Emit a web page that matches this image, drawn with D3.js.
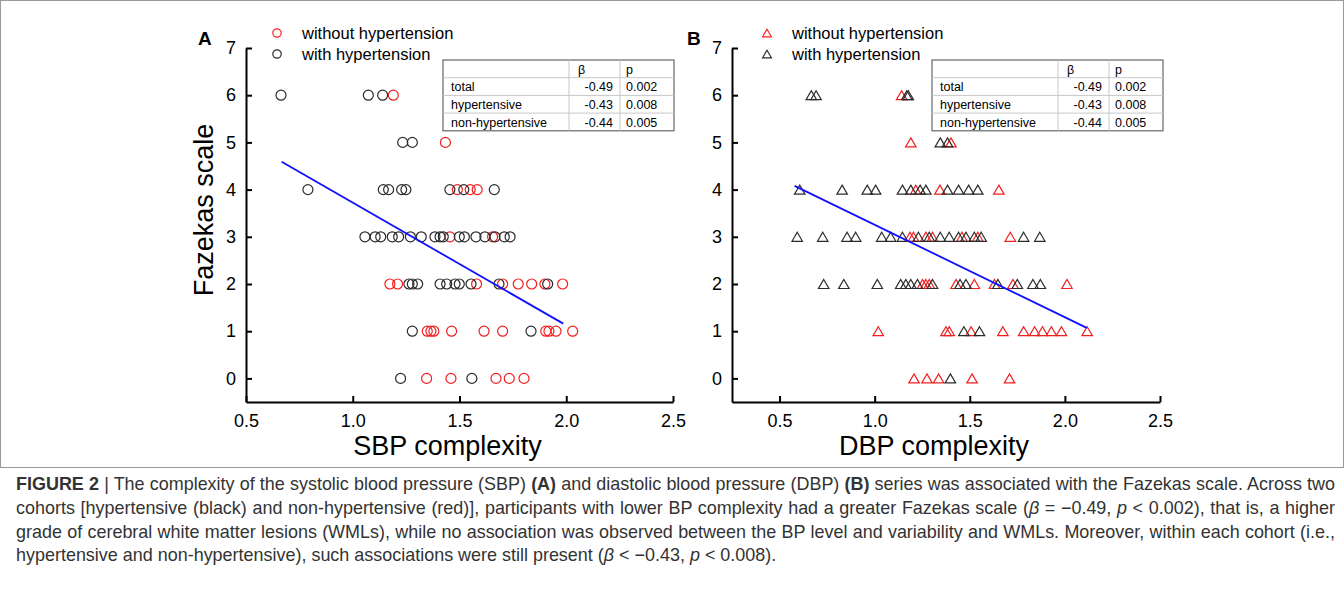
<!DOCTYPE html>
<html>
<head>
<meta charset="utf-8">
<title>Figure 2</title>
<style>
body { margin: 0; background: #fff; }
text { font-family: "Liberation Sans", Arial, sans-serif; fill: #000; }
.axis path, .axis line { stroke: #000; stroke-width: 2px; }
.axis text { font-size: 18px; font-family: "Liberation Sans", Arial, sans-serif; }
.caption { fill: #333; }
</style>
</head>
<body>
<script src="https://cdn.jsdelivr.net/npm/d3@7"></script>
<script>

// panel A: SBP complexity vs Fazekas scale
var sbpWith = [
  [0.664,6],[1.073,6],[1.14,6],
  [1.234,5],[1.279,5],
  [0.79,4],[1.143,4],[1.168,4],[1.229,4],[1.249,4],[1.455,4],[1.52,4],[1.663,4],
  [1.057,3],[1.105,3],[1.131,3],[1.185,3],[1.215,3],[1.27,3],[1.321,3],[1.385,3],[1.409,3],[1.424,3],
  [1.499,3],[1.523,3],[1.577,3],[1.619,3],[1.666,3],[1.71,3],[1.737,3],
  [1.263,2],[1.279,2],[1.304,2],[1.409,2],[1.44,2],[1.479,2],[1.499,2],[1.554,2],[1.685,2],[1.913,2],
  [1.279,1],[1.835,1],
  [1.224,0],[1.558,0]
];
var sbpWithout = [
  [1.19,6],
  [1.434,5],
  [1.49,4],[1.55,4],[1.583,4],
  [1.455,3],[1.655,3],
  [1.174,2],[1.21,2],[1.58,2],[1.702,2],[1.775,2],[1.838,2],[1.9,2],[1.983,2],
  [1.349,1],[1.366,1],[1.38,1],[1.463,1],[1.615,1],[1.702,1],[1.904,1],[1.919,1],[1.952,1],[2.03,1],
  [1.346,0],[1.46,0],[1.671,0],[1.733,0],[1.802,0]
];
var sbpFit = [[0.667,4.59],[1.986,1.16]];

// panel B: DBP complexity vs Fazekas scale
var dbpWith = [
  [0.667,6],[0.692,6],[1.169,6],[1.177,6],
  [1.345,5],[1.383,5],
  [0.606,4],[0.829,4],[0.961,4],[1.005,4],[1.146,4],[1.19,4],[1.239,4],[1.269,4],[1.383,4],[1.441,4],[1.494,4],[1.542,4],
  [0.593,3],[0.727,3],[0.855,3],[0.9,3],[1.037,3],[1.084,3],[1.146,3],[1.23,3],[1.287,3],[1.345,3],[1.392,3],
  [1.441,3],[1.48,3],[1.524,3],[1.56,3],[1.783,3],[1.868,3],
  [0.732,2],[0.838,2],[1.014,2],[1.137,2],[1.164,2],[1.19,2],[1.225,2],[1.304,2],[1.449,2],[1.48,2],
  [1.648,2],[1.75,2],[1.832,2],[1.871,2],
  [1.469,1],[1.551,1],
  [1.398,0]
];
var dbpWithout = [
  [1.142,6],
  [1.19,5],[1.401,5],
  [1.216,4],[1.343,4],[1.653,4],
  [1.186,3],[1.204,3],[1.269,3],[1.304,3],[1.459,3],[1.542,3],[1.713,3],
  [1.252,2],[1.269,2],[1.287,2],[1.428,2],[1.524,2],[1.63,2],[1.727,2],[2.011,2],
  [1.019,1],[1.375,1],[1.392,1],[1.507,1],[1.674,1],[1.783,1],[1.841,1],[1.882,1],[1.929,1],[1.982,1],[2.117,1],
  [1.207,0],[1.275,0],[1.336,0],[1.512,0],[1.709,0]
];
var dbpFit = [[0.579,4.08],[2.115,1.07]];

var xTicks = [0.5, 1.0, 1.5, 2.0, 2.5];
var yTicks = [0, 1, 2, 3, 4, 5, 6, 7];

var statRows = ["total", "hypertensive", "non-hypertensive"];
var statBeta = ["-0.49", "-0.43", "-0.44"];
var statP = ["0.002", "0.008", "0.005"];

var legendLabels = ["without hypertension", "with hypertension"];
var redCol = "#f21f1f", blackCol = "#2b2b2b";

var width = 1344, height = 600;

var svg = d3.select("body").append("svg")
    .attr("width", width)
    .attr("height", height);

// frame around the figure
svg.append("rect")
    .attr("x", 0.5).attr("y", 0.5)
    .attr("width", width - 1).attr("height", 467)
    .attr("fill", "none").attr("stroke", "#9a9a9a");

var y = d3.scaleLinear().domain([-0.5, 7]).range([402, 48]);

var panels = [
  {label: "A", xl: 246, xr: 673, xmin: 0.5, shape: "circle", xtitle: "SBP complexity",
   withP: sbpWith, withoutP: sbpWithout, fit: sbpFit, labelX: 198, legX: 277, tabX: 443, ytitle: true},
  {label: "B", xl: 732, xr: 1160, xmin: 0.25, shape: "triangle", xtitle: "DBP complexity",
   withP: dbpWith, withoutP: dbpWithout, fit: dbpFit, labelX: 687, legX: 767, tabX: 932, ytitle: false}
];

function marker(g, shape, cx, cy, col, r) {
  if (shape == "circle") {
    g.append("circle")
        .attr("cx", cx).attr("cy", cy).attr("r", r)
        .attr("fill", "none").attr("stroke", col).attr("stroke-width", 1.2);
  } else {
    var h = r * 1.8, w = r * 2.1;
    g.append("path")
        .attr("d", "M" + cx + "," + (cy - h / 2) + "L" + (cx + w / 2) + "," + (cy + h / 2) +
                   "L" + (cx - w / 2) + "," + (cy + h / 2) + "Z")
        .attr("fill", "none").attr("stroke", col).attr("stroke-width", 1.2);
  }
}

panels.forEach(function(p) {
  var x = d3.scaleLinear().domain([p.xmin, 2.5]).range([p.xl, p.xr]);
  var g = svg.append("g");

  // axes, ticks pointing inward
  g.append("g")
      .attr("class", "axis")
      .attr("transform", "translate(0," + y(-0.5) + ")")
      .call(d3.axisBottom(x).tickValues(xTicks).tickFormat(d3.format(".1f"))
            .tickSizeInner(-6).tickSizeOuter(0).tickPadding(12));

  g.append("g")
      .attr("class", "axis")
      .attr("transform", "translate(" + p.xl + ",0)")
      .call(d3.axisLeft(y).tickValues(yTicks).tickFormat(d3.format("d"))
            .tickSizeInner(-6).tickSizeOuter(0).tickPadding(10));

  g.selectAll(".axis text").style("font-size", "18px");

  g.append("text")
      .attr("x", (p.xl + p.xr) / 2 - 12).attr("y", 455)
      .attr("text-anchor", "middle")
      .style("font-size", "27px")
      .text(p.xtitle);

  if (p.ytitle) {
    g.append("text")
        .attr("transform", "translate(213," + 210 + ") rotate(-90)")
        .attr("text-anchor", "middle")
        .style("font-size", "27px")
        .text("Fazekas scale");
  }

  g.append("text")
      .attr("x", p.labelX).attr("y", 45)
      .style("font-size", "19px").style("font-weight", "bold")
      .text(p.label);

  // data points: non-hypertensive first, hypertensive on top
  var pts = g.append("g");
  p.withoutP.forEach(function(d) { marker(pts, p.shape, x(d[0]), y(d[1]), redCol, 5); });
  p.withP.forEach(function(d) { marker(pts, p.shape, x(d[0]), y(d[1]), blackCol, 5); });

  // regression line
  g.append("path")
      .attr("d", d3.line().x(function(d) { return x(d[0]); }).y(function(d) { return y(d[1]); })(p.fit))
      .attr("fill", "none").attr("stroke", "#1010ff").attr("stroke-width", 1.8);

  // legend
  legendLabels.forEach(function(t, i) {
    var ly = 33 + i * 21;
    marker(g, p.shape, p.legX, ly, i == 0 ? "#ff2020" : blackCol, 4.2);
    g.append("text")
        .attr("x", p.legX + 25).attr("y", ly + 6)
        .style("font-size", "16.5px")
        .text(t);
  });

  // stats table
  var tx = p.tabX, ty = 60, rh = 17.7, cw = [126, 51, 54];
  var tw = cw[0] + cw[1] + cw[2];
  var tab = g.append("g");
  tab.append("rect")
      .attr("x", tx).attr("y", ty).attr("width", tw).attr("height", rh * 4)
      .attr("fill", "#fff").attr("stroke", "#666").attr("stroke-width", 1.2);
  [1, 2, 3].forEach(function(i) {
    tab.append("line")
        .attr("x1", tx).attr("x2", tx + tw).attr("y1", ty + rh * i).attr("y2", ty + rh * i)
        .attr("stroke", "#c8c8c8");
  });
  [cw[0], cw[0] + cw[1]].forEach(function(cx) {
    tab.append("line")
        .attr("x1", tx + cx).attr("x2", tx + cx).attr("y1", ty).attr("y2", ty + rh * 4)
        .attr("stroke", "#c8c8c8");
  });
  tab.append("text").attr("x", tx + cw[0] + 9).attr("y", ty + 14).style("font-size", "12.5px").text("β");
  tab.append("text").attr("x", tx + cw[0] + cw[1] + 6).attr("y", ty + 14).style("font-size", "12.5px").text("p");
  statRows.forEach(function(r, i) {
    var by = ty + rh * (i + 1) + 13.5;
    tab.append("text").attr("x", tx + 8).attr("y", by).style("font-size", "12.5px").text(r);
    tab.append("text").attr("x", tx + cw[0] + cw[1] - 7).attr("y", by)
        .attr("text-anchor", "end").style("font-size", "12.5px").text(statBeta[i]);
    tab.append("text").attr("x", tx + cw[0] + cw[1] + 6).attr("y", by).style("font-size", "12.5px").text(statP[i]);
  });
});

// caption
var capLines = [
  [["FIGURE 2", "b"], [" | The complexity of the systolic blood pressure (SBP) ", ""], ["(A)", "b"],
   [" and diastolic blood pressure (DBP) ", ""], ["(B)", "b"],
   [" series was associated with the Fazekas scale. Across two", ""]],
  [["cohorts [hypertensive (black) and non-hypertensive (red)], participants with lower BP complexity had a greater Fazekas scale (", ""],
   ["β", "i"], [" = −0.49, ", ""], ["p", "i"], [" < 0.002), that is, a higher", ""]],
  [["grade of cerebral white matter lesions (WMLs), while no association was observed between the BP level and variability and WMLs. Moreover, within each cohort (i.e.,", ""]],
  [["hypertensive and non-hypertensive), such associations were still present (", ""], ["β", "i"],
   [" < −0.43, ", ""], ["p", "i"], [" < 0.008).", ""]]
];
var capY = [490, 514, 538, 561];
var capLeft = 16, capRight = 1335;

var capNodes = capLines.map(function(line, i) {
  var t = svg.append("text")
      .attr("class", "caption")
      .attr("x", capLeft).attr("y", capY[i])
      .style("font-size", "15px");
  line.forEach(function(seg) {
    t.append("tspan")
        .style("font-weight", seg[1] == "b" ? "bold" : "normal")
        .style("font-style", seg[1] == "i" ? "italic" : "normal")
        .text(seg[0]);
  });
  return t;
});

// pick one font size so the widest full line fits, then justify lines 1-3 by word spacing
var widest = d3.max(capNodes.slice(0, 3), function(t) { return t.node().getComputedTextLength(); });
var capSize = 15 * (capRight - capLeft - 4) / widest;
capNodes.forEach(function(t, i) {
  t.style("font-size", capSize + "px");
  if (i < 3) {
    var spaces = t.text().split(" ").length - 1;
    var extra = (capRight - capLeft) - t.node().getComputedTextLength();
    t.style("word-spacing", (extra / spaces) + "px");
  }
});

</script>
</body>
</html>
